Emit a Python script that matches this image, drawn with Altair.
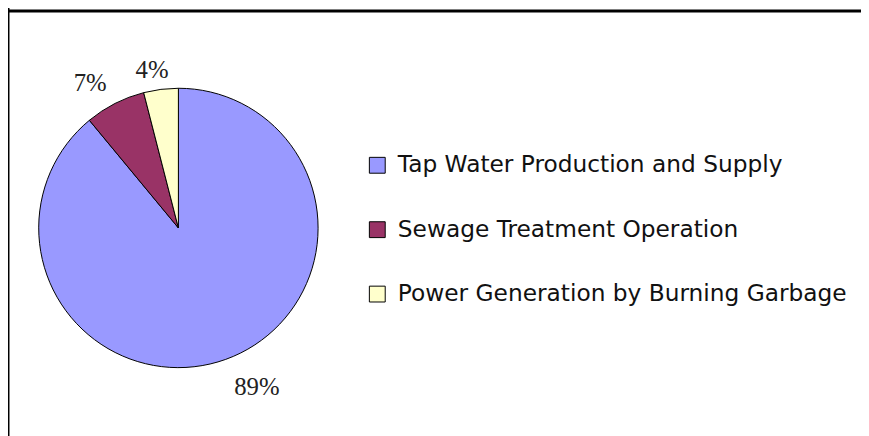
import altair as alt
import pandas as pd

categories = ["Tap Water Production and Supply", "Sewage Treatment Operation", "Power Generation by Burning Garbage"]
values = [89, 7, 4]
labels = ["89%", "7%", "4%"]
colors = ["#9999FF", "#993366", "#FFFFCC"]

df = pd.DataFrame({"category": categories, "value": values, "label": labels, "idx": [0, 1, 2]})

W, H = 861, 428
CX, CY, R = 172, 220, 141

color = alt.Color(
    "category:N",
    scale=alt.Scale(domain=categories, range=colors),
    sort=categories,
    legend=alt.Legend(
        title=None,
        orient="none",
        legendX=361,
        legendY=145,
        symbolType="square",
        symbolSize=256,
        symbolStrokeColor="black",
        symbolStrokeWidth=1,
        symbolOpacity=1,
        labelFont="DejaVu Sans",
        labelFontSize=23.5,
        labelColor="#111111",
        labelOffset=9,
        labelLimit=600,
        rowPadding=40,
    ),
)

pie = alt.Chart(df).mark_arc(radius=R, stroke="black", strokeWidth=1).encode(
    theta=alt.Theta("value:Q", stack=True),
    color=color,
    order=alt.Order("idx:Q"),
    x=alt.value(CX),
    y=alt.value(CY),
)

# per-label nudges imitating the original's label placement
nudges = {"89%": (21, -1), "7%": (-11, 7), "4%": (-5, 11)}
text_layers = []
for lab, (ddx, ddy) in nudges.items():
    text_layers.append(
        alt.Chart(df).mark_text(
            radius=172, font="Liberation Serif", fontSize=25, color="#222222", dx=ddx, dy=ddy
        ).encode(
            theta=alt.Theta("value:Q", stack=True),
            order=alt.Order("idx:Q"),
            text="label:N",
            opacity=alt.condition(alt.datum.label == lab, alt.value(1), alt.value(0)),
            x=alt.value(CX),
            y=alt.value(CY),
        )
    )

border_df = pd.DataFrame({"k": [0]})
left = alt.Chart(border_df).mark_rule(color="black", strokeWidth=3).encode(
    x=alt.value(0), y=alt.value(-8), y2=alt.value(H + 16)
)
top = alt.Chart(border_df).mark_rule(color="black", strokeWidth=3).encode(
    y=alt.value(1), x=alt.value(-1), x2=alt.value(W + 8)
)

chart = alt.layer(pie, *text_layers, left, top).properties(
    width=W, height=H, padding=0, autosize=alt.AutoSizeParams(type="none"), background="white"
).configure_view(stroke=None)

chart.save("out.html", embed_options={"renderer": "svg", "actions": False})
